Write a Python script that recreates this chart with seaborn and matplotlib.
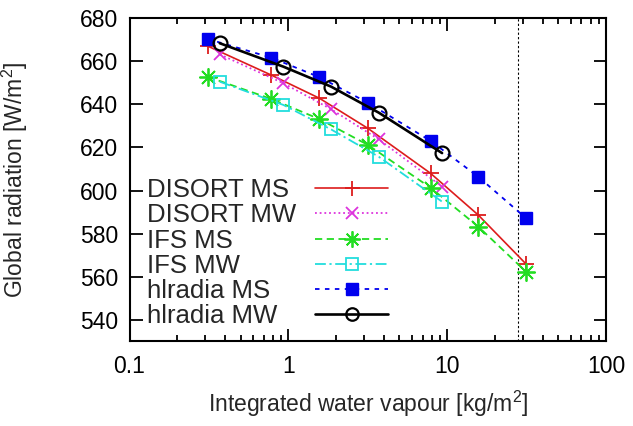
import matplotlib
matplotlib.use("Agg")
import matplotlib.pyplot as plt
from matplotlib.lines import Line2D
from matplotlib.ticker import FixedLocator, FixedFormatter, LogLocator, NullFormatter
import numpy as np
import pandas as pd
import seaborn as sns

# Integrated water vapour of the two sets of profiles [kg/m^2]
iwv_ms = [0.31, 0.78, 1.57, 3.17, 7.86, 15.7, 31.4]
iwv_mw = [0.37, 0.93, 1.86, 3.71, 9.29]

# Global radiation at the surface [W/m^2]
disort_ms = [667.2, 653.7, 642.9, 628.9, 608.0, 588.6, 565.8]
disort_mw = [663.3, 649.9, 637.8, 623.8, 601.8]
ifs_ms = [652.9, 642.6, 633.2, 621.2, 601.3, 583.2, 562.2]
ifs_mw = [650.6, 639.8, 628.4, 615.7, 594.8]
hlradia_ms = [670.5, 661.8, 652.7, 640.8, 623.1, 606.4, 587.1]
hlradia_mw = [668.5, 657.6, 648.3, 636.2, 617.4]

series_names = ["DISORT MS", "DISORT MW", "IFS MS", "IFS MW", "hlradia MS", "hlradia MW"]
x_ticks = [0.1, 1, 10, 100]
x_tick_labels = ["0.1", "1", "10", "100"]
y_ticks = [540, 560, 580, 600, 620, 640, 660, 680]
iwv_marker_line = 27.8

sns.set_theme(style="ticks")
plt.rcParams["font.family"] = ["Liberation Sans", "DejaVu Sans"]
plt.rcParams["mathtext.default"] = "regular"

frames = []
for name, xs, ys in [
    ("DISORT MS", iwv_ms, disort_ms),
    ("DISORT MW", iwv_mw, disort_mw),
    ("IFS MS", iwv_ms, ifs_ms),
    ("IFS MW", iwv_mw, ifs_mw),
    ("hlradia MS", iwv_ms, hlradia_ms),
    ("hlradia MW", iwv_mw, hlradia_mw),
]:
    frames.append(pd.DataFrame({"iwv": xs, "rad": ys, "model": name}))
df = pd.concat(frames, ignore_index=True)

styles = {
    "DISORT MS": dict(color="#dd1c1c", linestyle="-", lw=1.2, marker="+", ms=12, mew=1.3,
                      mfc="#dd1c1c"),
    "DISORT MW": dict(color="#dd33dd", linestyle=(0, (1, 1.6)), lw=1.3, marker="x", ms=9, mew=1.3,
                      mfc="#dd33dd"),
    "IFS MS": dict(color="#22dd22", linestyle=(0, (4, 2.5)), lw=1.3, marker=(8, 2, 0), ms=13, mew=1.3,
                   mfc="#22dd22"),
    "IFS MW": dict(color="#22dddd", linestyle=(0, (6, 2, 1.2, 2)), lw=1.3, marker="s", ms=9, mew=1.3,
                   mfc="none"),
    "hlradia MS": dict(color="#0000ee", linestyle=(0, (2.5, 3)), lw=1.3, marker="s", ms=9, mew=1.0,
                       mfc="#0000ee"),
    "hlradia MW": dict(color="black", linestyle="-", lw=1.9, marker="o", ms=10, mew=1.6,
                       mfc="none"),
}

fig = plt.figure(figsize=(6.33, 4.26), dpi=100)
ax = fig.add_axes([0.2046, 0.1995, 0.7527, 0.7571])

ax.axvline(iwv_marker_line, color="black", lw=0.8, linestyle=(0, (2, 2)), zorder=1)

for name in series_names:
    st = styles[name]
    sub = df[df["model"] == name]
    sns.lineplot(data=sub, x="iwv", y="rad", ax=ax, color=st["color"], linestyle=st["linestyle"],
                 linewidth=st["lw"], marker=st["marker"], markersize=st["ms"],
                 markeredgewidth=st["mew"], markerfacecolor=st["mfc"],
                 markeredgecolor=st["color"], legend=False, zorder=3)

ax.set_xscale("log")
ax.set_xlim(0.1, 100)
ax.set_ylim(530, 680)
ax.xaxis.set_major_locator(FixedLocator(x_ticks))
ax.xaxis.set_major_formatter(FixedFormatter(x_tick_labels))
ax.xaxis.set_minor_locator(LogLocator(base=10, subs=np.arange(2, 10)))
ax.xaxis.set_minor_formatter(NullFormatter())
ax.set_yticks(y_ticks)

for s in ax.spines.values():
    s.set_linewidth(1.5)
    s.set_color("black")
    s.set_visible(True)
ax.tick_params(which="both", direction="in", top=True, right=True, colors="black", width=1.3)
ax.tick_params(which="major", length=9, labelsize=16.5)
ax.tick_params(which="minor", length=4.5)
ax.tick_params(axis="y", pad=8)
ax.tick_params(axis="x", pad=10)

ax.set_xlabel("Integrated water vapour [kg/m$^2$]", fontsize=16.5)
ax.set_ylabel("Global radiation [W/m$^2$]", fontsize=16.5)
ax.xaxis.set_label_coords(0.5, -0.148)
ax.yaxis.set_label_coords(-0.208, 0.5)

# Key: labels on the left, line samples on the right (two aligned legends)
handles = []
for name in series_names:
    st = styles[name]
    handles.append(Line2D([], [], color=st["color"], linestyle=st["linestyle"], lw=st["lw"],
                          marker=st["marker"], ms=st["ms"] * 0.9, mew=st["mew"],
                          mfc=st["mfc"], mec=st["color"]))
blank = [Line2D([], [], color="none", lw=0) for _ in series_names]

key_top = 1 - (178 - 18.5) / 322.5
leg_kw = dict(frameon=False, fontsize=18.5, labelspacing=0.05, borderpad=0, borderaxespad=0,
              loc="upper left")
leg_text = ax.legend(blank, series_names, handlelength=0, handletextpad=0,
                     bbox_to_anchor=((147 - 129.5) / 476.5, key_top), **leg_kw)
ax.add_artist(leg_text)
leg_lines = ax.legend(handles, series_names, handlelength=2.85, handletextpad=0.5,
                      bbox_to_anchor=((315 - 129.5) / 476.5, key_top), **leg_kw)
for t in leg_lines.get_texts():
    t.set_alpha(0)

fig.savefig("out.png", dpi=100)
